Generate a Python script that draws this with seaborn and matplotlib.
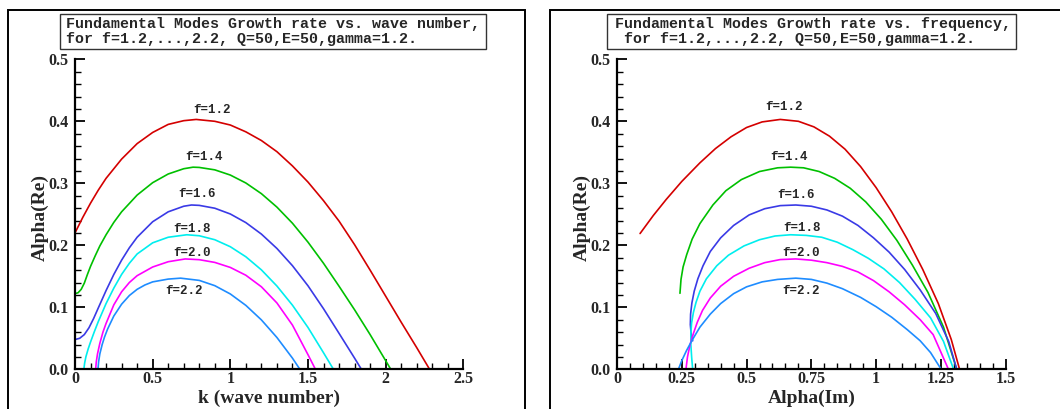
import numpy as np
import pandas as pd
import matplotlib
matplotlib.use("Agg")
import matplotlib.pyplot as plt
import seaborn as sns
from matplotlib.patches import Rectangle
from matplotlib.ticker import MultipleLocator, FuncFormatter

# ---------------- data (left panel: k vs Alpha(Re)) ----------------
k_f12 = [0, 0.05, 0.1, 0.15, 0.2, 0.3, 0.4, 0.5, 0.6, 0.7, 0.78, 0.9, 1.0, 1.1, 1.2, 1.3, 1.4, 1.5, 1.6, 1.7, 1.8, 1.9, 2.0, 2.1, 2.2, 2.283]
re_f12 = [0.220, 0.245, 0.268, 0.289, 0.308, 0.339, 0.364, 0.382, 0.395, 0.401, 0.403, 0.400, 0.394, 0.383, 0.369, 0.351, 0.328, 0.302, 0.272, 0.239, 0.201, 0.160, 0.118, 0.076, 0.035, 0.0]

k_f14 = [0, 0.02, 0.04, 0.06, 0.08, 0.1, 0.13, 0.16, 0.2, 0.25, 0.3, 0.4, 0.5, 0.6, 0.7, 0.76, 0.8, 0.9, 1.0, 1.1, 1.2, 1.3, 1.4, 1.5, 1.6, 1.7, 1.8, 1.9, 2.0, 2.033]
re_f14 = [0.122, 0.1235, 0.129, 0.139, 0.153, 0.166, 0.183, 0.199, 0.217, 0.237, 0.254, 0.281, 0.301, 0.315, 0.3235, 0.326, 0.3256, 0.3217, 0.3133, 0.3005, 0.2833, 0.2616, 0.2356, 0.2051, 0.171, 0.134, 0.096, 0.056, 0.014, 0.0]

k_f16 = [0, 0.03, 0.06, 0.09, 0.12, 0.15, 0.2, 0.25, 0.3, 0.35, 0.4, 0.5, 0.6, 0.7, 0.75, 0.8, 0.9, 1.0, 1.1, 1.2, 1.3, 1.4, 1.5, 1.6, 1.7, 1.8, 1.844]
re_f16 = [0.048, 0.050, 0.056, 0.067, 0.082, 0.099, 0.127, 0.153, 0.176, 0.196, 0.213, 0.238, 0.254, 0.263, 0.265, 0.2644, 0.2598, 0.2505, 0.2366, 0.2181, 0.1949, 0.1671, 0.1347, 0.0977, 0.058, 0.018, 0.0]

k_f18 = [0.057, 0.062, 0.07, 0.085, 0.1, 0.125, 0.15, 0.2, 0.25, 0.3, 0.35, 0.4, 0.5, 0.6, 0.72, 0.8, 0.9, 1.0, 1.1, 1.2, 1.3, 1.4, 1.5, 1.6, 1.664]
re_f18 = [0.0, 0.010, 0.020, 0.033, 0.044, 0.061, 0.077, 0.106, 0.131, 0.153, 0.171, 0.186, 0.204, 0.213, 0.217, 0.2154, 0.209, 0.1977, 0.1815, 0.1604, 0.1343, 0.1034, 0.0675, 0.0267, 0.0]

k_f20 = [0.133, 0.137, 0.145, 0.16, 0.18, 0.2, 0.25, 0.3, 0.35, 0.4, 0.5, 0.6, 0.71, 0.8, 0.9, 1.0, 1.1, 1.2, 1.3, 1.4, 1.5, 1.548]
re_f20 = [0.0, 0.012, 0.025, 0.042, 0.060, 0.074, 0.104, 0.125, 0.140, 0.151, 0.165, 0.1735, 0.178, 0.1768, 0.1724, 0.1643, 0.1517, 0.1331, 0.107, 0.0713, 0.0236, 0.0]

k_f22 = [0.148, 0.152, 0.16, 0.175, 0.19, 0.21, 0.25, 0.3, 0.35, 0.4, 0.45, 0.5, 0.6, 0.68, 0.8, 0.9, 1.0, 1.1, 1.2, 1.3, 1.4, 1.448]
re_f22 = [0.0, 0.012, 0.025, 0.040, 0.052, 0.065, 0.086, 0.105, 0.119, 0.129, 0.136, 0.141, 0.1455, 0.147, 0.1434, 0.1349, 0.1215, 0.1031, 0.0797, 0.0513, 0.018, 0.0]

# ---------------- data (right panel: Alpha(Im) vs Alpha(Re)) ----------------
im_f12 = [0.089, 0.14, 0.19, 0.25, 0.32, 0.38, 0.44, 0.50, 0.56, 0.63, 0.70, 0.76, 0.82, 0.88, 0.94, 1.00, 1.06, 1.12, 1.18, 1.24, 1.29, 1.322]
ri_f12 = [0.219, 0.248, 0.274, 0.303, 0.333, 0.356, 0.375, 0.390, 0.399, 0.403, 0.400, 0.391, 0.376, 0.355, 0.327, 0.293, 0.254, 0.210, 0.161, 0.106, 0.048, 0.0]

im_f14 = [0.243, 0.247, 0.255, 0.269, 0.29, 0.32, 0.37, 0.42, 0.48, 0.55, 0.62, 0.67, 0.72, 0.78, 0.84, 0.90, 0.96, 1.02, 1.08, 1.14, 1.20, 1.26, 1.311]
ri_f14 = [0.1226, 0.145, 0.165, 0.185, 0.210, 0.235, 0.265, 0.288, 0.306, 0.319, 0.325, 0.326, 0.325, 0.319, 0.308, 0.292, 0.270, 0.242, 0.208, 0.168, 0.124, 0.068, 0.0]

im_f16 = [0.292, 0.286, 0.283, 0.284, 0.289, 0.298, 0.312, 0.332, 0.36, 0.40, 0.45, 0.51, 0.57, 0.63, 0.69, 0.75, 0.81, 0.87, 0.93, 0.99, 1.05, 1.11, 1.17, 1.23, 1.28, 1.311]
ri_f16 = [0.046, 0.058, 0.072, 0.089, 0.107, 0.126, 0.146, 0.167, 0.190, 0.212, 0.232, 0.249, 0.259, 0.264, 0.265, 0.263, 0.257, 0.247, 0.232, 0.212, 0.189, 0.161, 0.128, 0.090, 0.045, 0.0]

im_f18 = [0.292, 0.288, 0.285, 0.285, 0.288, 0.295, 0.305, 0.32, 0.345, 0.385, 0.43, 0.49, 0.55, 0.61, 0.67, 0.73, 0.79, 0.85, 0.91, 0.97, 1.03, 1.09, 1.15, 1.21, 1.26, 1.299]
ri_f18 = [0.0, 0.020, 0.040, 0.058, 0.075, 0.092, 0.108, 0.126, 0.146, 0.167, 0.184, 0.199, 0.209, 0.215, 0.217, 0.216, 0.213, 0.205, 0.193, 0.179, 0.162, 0.140, 0.113, 0.083, 0.045, 0.0]

im_f20 = [0.266, 0.272, 0.282, 0.295, 0.31, 0.33, 0.36, 0.40, 0.45, 0.51, 0.57, 0.63, 0.69, 0.75, 0.81, 0.87, 0.93, 0.99, 1.05, 1.11, 1.17, 1.22, 1.279]
ri_f20 = [0.0, 0.020, 0.040, 0.058, 0.076, 0.095, 0.115, 0.134, 0.150, 0.163, 0.172, 0.177, 0.178, 0.176, 0.172, 0.166, 0.157, 0.143, 0.125, 0.104, 0.080, 0.056, 0.0]

im_f22 = [0.237, 0.25, 0.268, 0.29, 0.32, 0.36, 0.40, 0.45, 0.50, 0.56, 0.62, 0.69, 0.75, 0.81, 0.87, 0.94, 1.00, 1.06, 1.12, 1.17, 1.21, 1.251]
ri_f22 = [0.0, 0.014, 0.030, 0.047, 0.068, 0.089, 0.106, 0.122, 0.133, 0.141, 0.145, 0.147, 0.145, 0.139, 0.130, 0.116, 0.101, 0.084, 0.064, 0.046, 0.027, 0.0]

series_names = ["f=1.2", "f=1.4", "f=1.6", "f=1.8", "f=2.0", "f=2.2"]
left_x = [k_f12, k_f14, k_f16, k_f18, k_f20, k_f22]
left_y = [re_f12, re_f14, re_f16, re_f18, re_f20, re_f22]
right_x = [im_f12, im_f14, im_f16, im_f18, im_f20, im_f22]
right_y = [ri_f12, ri_f14, ri_f16, ri_f18, ri_f20, ri_f22]

title_left = ["Fundamental Modes Growth rate vs. wave number,",
              "for f=1.2,...,2.2, Q=50,E=50,gamma=1.2."]
title_right = ["Fundamental Modes Growth rate vs. frequency,",
               " for f=1.2,...,2.2, Q=50,E=50,gamma=1.2."]

# ---------------- styling ----------------
colors = ["#d40000", "#00c000", "#3a3ae6", "#00eeee", "#ff00ff", "#1e8cff"]
lab_pos_left = [(0.88, 0.418), (0.83, 0.342), (0.788, 0.283), (0.753, 0.227), (0.755, 0.187), (0.70, 0.127)]
lab_pos_right = [(0.645, 0.423), (0.663, 0.343), (0.691, 0.281), (0.714, 0.228), (0.710, 0.188), (0.710, 0.127)]

sns.set_style("ticks")
plt.rcParams["font.family"] = ["Liberation Serif", "DejaVu Serif"]
SERIF = "Liberation Serif"
MONO = "Liberation Mono"

W, H = 1060, 409
fig = plt.figure(figsize=(W / 100, H / 100), dpi=100)

def fx(px):
    return px / W

def fy(py):
    return 1 - py / H

ax_l = fig.add_axes([fx(75), fy(369.3), (463.3 - 75) / W, 310 / H])
ax_r = fig.add_axes([fx(617), fy(369.3), (1005.7 - 617) / W, 310 / H])

def style_axis(ax, xmax, xmajor, xminor, xlabel):
    ax.set_xlim(0, xmax)
    ax.set_ylim(0, 0.5)
    for s in ["top", "right"]:
        ax.spines[s].set_visible(False)
    for s in ["left", "bottom"]:
        ax.spines[s].set_linewidth(1.6)
        ax.spines[s].set_color("black")
    ax.xaxis.set_major_locator(MultipleLocator(xmajor))
    ax.xaxis.set_minor_locator(MultipleLocator(xminor))
    ax.yaxis.set_major_locator(MultipleLocator(0.1))
    ax.yaxis.set_minor_locator(MultipleLocator(0.02))
    ax.xaxis.set_major_formatter(FuncFormatter(lambda v, p: "%g" % round(v, 4)))
    ax.yaxis.set_major_formatter(FuncFormatter(lambda v, p: "%.1f" % v))
    ax.tick_params(which="major", direction="in", length=7, width=1.3, color="black",
                   labelsize=11.5)
    ax.tick_params(axis="x", which="major", pad=1.5)
    ax.tick_params(axis="y", which="major", pad=4.5)
    ax.tick_params(which="minor", direction="in", length=4, width=1.0, color="black")
    for lab in ax.get_xticklabels() + ax.get_yticklabels():
        lab.set_fontfamily(SERIF)
        lab.set_fontweight("bold")
    ax.set_xlabel(xlabel, fontsize=14, fontweight="bold", fontfamily=SERIF)
    ax.set_ylabel("Alpha(Re)", fontsize=14, fontweight="bold", fontfamily=SERIF)
    ax.xaxis.label.set_va("center")
    ax.yaxis.label.set_va("center")
    ax.xaxis.set_label_coords(0.5, (369.3 - 398.5) / 310)
    ax.yaxis.set_label_coords(-0.089, 0.49)
    ax.set_facecolor("none")

for xs, ys, c in zip(left_x, left_y, colors):
    sns.lineplot(x=xs, y=ys, ax=ax_l, color=c, lw=1.2, sort=False, estimator=None)
for xs, ys, c in zip(right_x, right_y, colors):
    sns.lineplot(x=xs, y=ys, ax=ax_r, color=c, lw=1.2, sort=False, estimator=None)

style_axis(ax_l, 2.5, 0.5, 0.1, "k (wave number)")
style_axis(ax_r, 1.5, 0.25, 0.05, "Alpha(Im)")

for name, (x, y) in zip(series_names, lab_pos_left):
    ax_l.text(x, y, name, ha="center", va="center", fontsize=9, fontweight="bold", fontfamily=MONO)
for name, (x, y) in zip(series_names, lab_pos_right):
    ax_r.text(x, y, name, ha="center", va="center", fontsize=9, fontweight="bold", fontfamily=MONO)

# page frames
fig.add_artist(Rectangle((fx(7.5), -0.1), fx(525) - fx(7.5), fy(10) + 0.1, transform=fig.transFigure,
                         fill=False, lw=1.4, ec="black"))
fig.add_artist(Rectangle((fx(550), -0.1), 0.6, fy(10) + 0.1, transform=fig.transFigure,
                         fill=False, lw=1.4, ec="black"))

# title boxes
def title_box(x0, x1, lines, tx):
    fig.add_artist(Rectangle((fx(x0), fy(49)), fx(x1) - fx(x0), fy(14) - fy(49),
                             transform=fig.transFigure, fill=False, lw=1.0, ec="#333333"))
    for i, line in enumerate(lines):
        fig.text(fx(tx), fy(24 + 15 * i), line, ha="left", va="center",
                 fontsize=10.8, fontweight="bold", fontfamily=MONO)

title_box(60, 486, title_left, 66)
title_box(607, 1016, title_right, 615)

fig.savefig("out.png", dpi=100)
